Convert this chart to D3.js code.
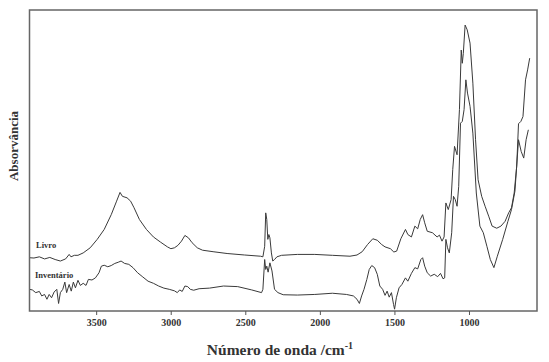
<!DOCTYPE html>
<html lang="pt">
<head>
    <meta charset="UTF-8">
    <title>Espectro FTIR</title>
    <script src="https://d3js.org/d3.v7.min.js"></script>
    <style>
        body { margin: 0; background: #fff; }
        text { font-family: "Liberation Serif", "Times New Roman", serif; font-weight: bold; fill: #333; }
    </style>
</head>
<body>
    <div id="chart"></div>
    <script>
        // wavenumber (cm-1), absorbance (arbitrary units)
        const livro = [
            [3947,0.177],[3917,0.176],[3881,0.180],[3846,0.173],[3811,0.178],[3775,0.171],[3740,0.166],
            [3705,0.173],[3681,0.188],[3669,0.180],[3646,0.185],[3622,0.185],[3587,0.193],[3540,0.210],
            [3493,0.238],[3446,0.271],[3399,0.320],[3363,0.365],[3340,0.394],[3324,0.381],[3293,0.376],
            [3269,0.365],[3246,0.343],[3210,0.304],[3163,0.271],[3116,0.246],[3069,0.229],[3022,0.213],
            [2999,0.207],[2975,0.210],[2952,0.218],[2928,0.232],[2905,0.251],[2881,0.243],[2857,0.227],
            [2822,0.210],[2787,0.202],[2716,0.197],[2622,0.191],[2504,0.186],[2398,0.182],[2382,0.180],
            [2370,0.215],[2363,0.326],[2356,0.304],[2349,0.238],[2342,0.254],[2335,0.243],[2325,0.193],
            [2316,0.166],[2304,0.171],[2288,0.180],[2257,0.185],[2151,0.188],[2034,0.188],[1916,0.185],
            [1798,0.182],[1751,0.186],[1716,0.197],[1680,0.221],[1645,0.240],[1615,0.235],[1586,0.221],
            [1563,0.213],[1527,0.207],[1504,0.196],[1485,0.199],[1457,0.240],[1426,0.271],[1410,0.254],
            [1386,0.246],[1363,0.282],[1344,0.273],[1327,0.304],[1311,0.320],[1297,0.293],[1280,0.265],
            [1245,0.260],[1214,0.246],[1198,0.252],[1181,0.232],[1167,0.246],[1155,0.359],[1139,0.337],
            [1120,0.370],[1109,0.470],[1097,0.547],[1080,0.519],[1064,0.669],[1052,0.867],[1045,0.823],
            [1038,0.856],[1026,0.950],[1012,0.934],[993,0.890],[974,0.757],[956,0.569],[939,0.436],
            [915,0.381],[892,0.348],[868,0.315],[845,0.282],[814,0.275],[786,0.282],[758,0.298],
            [734,0.326],[715,0.343],[697,0.392],[680,0.481],[668,0.622],[652,0.630],[638,0.646],
            [621,0.768],[607,0.801],[593,0.840]
        ];

        const inventario = [
            [3947,0.072],[3928,0.070],[3905,0.061],[3881,0.065],[3865,0.050],[3846,0.055],[3830,0.039],
            [3815,0.055],[3799,0.044],[3782,0.063],[3764,0.072],[3752,0.025],[3740,0.061],[3724,0.072],
            [3710,0.096],[3698,0.061],[3681,0.088],[3667,0.066],[3653,0.096],[3639,0.077],[3622,0.102],
            [3606,0.085],[3587,0.092],[3568,0.085],[3552,0.105],[3528,0.103],[3505,0.110],[3481,0.127],
            [3465,0.149],[3446,0.152],[3422,0.147],[3399,0.151],[3375,0.158],[3352,0.162],[3333,0.166],
            [3309,0.158],[3281,0.155],[3253,0.144],[3222,0.127],[3187,0.113],[3152,0.099],[3116,0.092],
            [3081,0.083],[3046,0.076],[3010,0.072],[2975,0.067],[2956,0.061],[2940,0.070],[2923,0.065],
            [2905,0.083],[2886,0.081],[2869,0.072],[2846,0.069],[2810,0.074],[2740,0.076],[2646,0.083],
            [2551,0.081],[2457,0.070],[2391,0.061],[2382,0.072],[2370,0.171],[2363,0.138],[2356,0.149],
            [2347,0.129],[2335,0.160],[2321,0.133],[2304,0.072],[2281,0.061],[2246,0.054],[2151,0.053],
            [2034,0.055],[1916,0.059],[1822,0.055],[1775,0.050],[1751,0.039],[1735,0.025],[1720,0.050],
            [1704,0.072],[1685,0.105],[1669,0.138],[1652,0.151],[1633,0.144],[1615,0.122],[1598,0.083],
            [1579,0.072],[1563,0.052],[1549,0.066],[1535,0.046],[1520,0.061],[1506,0.022],[1499,0.006],
            [1487,0.044],[1469,0.077],[1450,0.088],[1426,0.110],[1410,0.099],[1386,0.125],[1363,0.144],
            [1344,0.140],[1323,0.171],[1311,0.177],[1297,0.149],[1280,0.127],[1257,0.116],[1233,0.122],
            [1210,0.114],[1191,0.125],[1174,0.107],[1163,0.110],[1155,0.238],[1144,0.210],[1132,0.193],
            [1116,0.260],[1104,0.381],[1092,0.370],[1080,0.348],[1069,0.414],[1057,0.624],[1045,0.630],
            [1033,0.669],[1021,0.768],[1010,0.724],[993,0.680],[974,0.591],[951,0.392],[927,0.282],
            [904,0.260],[880,0.215],[857,0.171],[833,0.144],[810,0.182],[774,0.238],[739,0.298],
            [715,0.337],[692,0.398],[668,0.569],[650,0.530],[633,0.508],[617,0.569],[602,0.602]
        ];

        const xTicks = [3500, 3000, 2500, 2000, 1500, 1000];
        const seriesNames = ["Livro", "Inventário"];

        const width = 549, height = 362;
        const margin = { top: 10, right: 12, bottom: 51, left: 29.5 };

        const svg = d3.select("#chart").append("svg")
            .attr("width", width)
            .attr("height", height);

        const x = d3.scaleLinear().domain([3947, 544]).range([margin.left, width - margin.right]);
        const y = d3.scaleLinear().domain([0, 1]).range([height - margin.bottom, margin.top]);

        const line = d3.line()
            .x(d => x(d[0]))
            .y(d => y(d[1]));

        [livro, inventario].forEach(s => {
            svg.append("path")
                .datum(s)
                .attr("fill", "none")
                .attr("stroke", "#3a3a3a")
                .attr("stroke-width", 1)
                .attr("stroke-linejoin", "round")
                .attr("d", line);
        });

        // frame
        svg.append("rect")
            .attr("x", margin.left)
            .attr("y", margin.top)
            .attr("width", width - margin.left - margin.right)
            .attr("height", height - margin.top - margin.bottom)
            .attr("fill", "none")
            .attr("stroke", "#666")
            .attr("stroke-width", 1.5);

        const xAxis = svg.append("g")
            .attr("transform", `translate(0, ${height - margin.bottom})`)
            .call(d3.axisBottom(x).tickValues(xTicks).tickSize(4).tickPadding(4).tickFormat(d3.format("d")));
        xAxis.select(".domain").remove();
        xAxis.selectAll(".tick line").attr("stroke", "#555");
        xAxis.selectAll("text")
            .style("font-family", "'Liberation Serif', serif")
            .style("font-weight", "bold")
            .style("font-size", "10px")
            .attr("fill", "#333");

        // series labels
        svg.append("text").attr("x", 36).attr("y", 248).style("font-size", "8.5px").text(seriesNames[0]);
        svg.append("text").attr("x", 35).attr("y", 278).style("font-size", "8.5px").text(seriesNames[1]);

        // axis titles
        const xt = svg.append("text")
            .attr("x", 280)
            .attr("y", 355)
            .attr("text-anchor", "middle")
            .style("font-size", "15.5px")
            .text("Número de onda /cm");
        xt.append("tspan")
            .attr("dy", -6)
            .style("font-size", "10px")
            .text("-1");

        svg.append("text")
            .attr("transform", "translate(18, 146) rotate(-90)")
            .attr("text-anchor", "middle")
            .style("font-size", "13px")
            .text("Absorvância");
    </script>
</body>
</html>
